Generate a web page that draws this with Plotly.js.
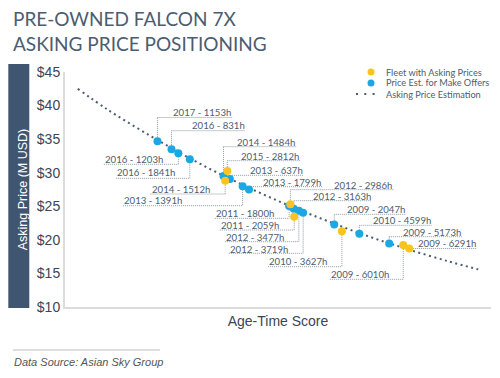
<!DOCTYPE html>
<html>
<head>
<meta charset="utf-8">
<script src="https://cdn.plot.ly/plotly-3.0.1.min.js"></script>
<style>html,body{margin:0;padding:0;background:#fff;}#chart{width:500px;height:378px;}</style>
</head>
<body>
<div id="chart"></div>
<script>
// ---- data ----
const fleetLabels = ['2015 - 2812h','2014 - 1512h','2012 - 2986h','2011 - 2059h','2010 - 3627h','2009 - 6010h','2009 - 6291h'];
const fleetScore  = [38.1, 37.6, 52.9, 53.8, 65.0, 79.4, 80.8];
const fleetPrice  = [30.25, 28.8, 25.3, 23.45, 21.3, 19.25, 18.7];

const offerLabels = ['2017 - 1153h','2016 - 831h','2016 - 1203h','2016 - 1841h','2014 - 1484h','2013 - 637h','2013 - 1391h','2013 - 1799h','2011 - 1800h','2012 - 3163h','2012 - 3477h','2012 - 3719h','2009 - 2047h','2010 - 4599h','2009 - 5173h'];
const offerScore  = [21.7, 25.0, 26.6, 29.3, 37.2, 38.7, 41.7, 43.2, 52.6, 53.7, 54.9, 55.9, 63.2, 69.1, 76.1];
const offerPrice  = [34.7, 33.5, 32.9, 32.0, 29.5, 29.05, 28.0, 27.5, 25.05, 24.65, 24.35, 24.05, 22.3, 20.9, 19.45];

const trendScore = [3, 10, 20, 30, 40, 50, 60, 70, 80, 90, 97];
const trendPrice = [42.5, 39.4, 35.5, 31.9, 28.7, 25.8, 23.2, 20.8, 18.7, 16.8, 15.6];

const yTickVals = [10, 15, 20, 25, 30, 35, 40, 45];

// ---- layout helpers (label placement in page pixels: text centre x, text centre y, underline y) ----
const labelPos = {
  '2017 - 1153h': [202, 112, 117.5],
  '2016 - 831h':  [218, 125.5, 130.7],
  '2016 - 1203h': [134, 159, 164.3],
  '2016 - 1841h': [146, 172.7, 178.3],
  '2014 - 1484h': [266, 142, 146.7],
  '2015 - 2812h': [270, 156, 160.7],
  '2013 - 637h':  [276.5, 170.5, 175.3],
  '2013 - 1799h': [292, 182, 186.7],
  '2014 - 1512h': [180.7, 189.3, 194],
  '2013 - 1391h': [153.3, 200.7, 205.7],
  '2012 - 2986h': [363.3, 185, 189.7],
  '2012 - 3163h': [341.7, 196.2, 200.7],
  '2011 - 1800h': [245, 213.3, 218.3],
  '2011 - 2059h': [250, 225, 230],
  '2012 - 3477h': [255, 237, 241.7],
  '2012 - 3719h': [259, 249, 253.3],
  '2010 - 3627h': [298.3, 261.7, 266.7],
  '2009 - 2047h': [376, 209.7, 214.3],
  '2010 - 4599h': [401.7, 220.8, 225.3],
  '2009 - 5173h': [431.7, 232.2, 236.7],
  '2009 - 6010h': [360, 274.5, 279.3],
  '2009 - 6291h': [446.7, 243.5, 248.5]
};

const W = 500, H = 378;
const M = {l: 65, r: 9, t: 72, b: 71};
const PW = W - M.l - M.r, PH = H - M.t - M.b;
const XR = [0, 100], YR = [10, 45];
const px2x = p => XR[0] + (p - M.l) / PW * (XR[1] - XR[0]);
const py2y = p => YR[1] - (p - M.t) / PH * (YR[1] - YR[0]);
const x2px = x => M.l + (x - XR[0]) / (XR[1] - XR[0]) * PW;
const pxPaperX = p => (p - M.l) / PW;
const pyPaperY = p => (H - M.b - p) / PH;

const TXT = '#4b5d70';
const BLUE = '#1aa7e4', YELLOW = '#f9c41e';
const LABEL_SIZE = 9.6;
const labelFont = {family: 'Lato, sans-serif', size: LABEL_SIZE, color: TXT};

const cv = document.createElement('canvas').getContext('2d');
cv.font = LABEL_SIZE + 'px Lato';

const shapes = [];
const annotations = [];

function addLabels(labels, xs, ys) {
  labels.forEach((lab, i) => {
    const p = labelPos[lab];
    if (!p) return;
    const w = cv.measureText(lab).width;
    const ptx = x2px(xs[i]);
    const left = Math.min(ptx, p[0] - w / 2 - 1);
    const right = Math.max(ptx, p[0] + w / 2 + 1);
    const lineStyle = {color: '#8d99a6', width: 1, dash: '1px,1px'};
    shapes.push({type: 'line', xref: 'x', yref: 'y', layer: 'below',
      x0: px2x(left), x1: px2x(right), y0: py2y(p[2]), y1: py2y(p[2]), line: lineStyle});
    shapes.push({type: 'line', xref: 'x', yref: 'y', layer: 'below',
      x0: xs[i], x1: xs[i], y0: ys[i], y1: py2y(p[2]), line: lineStyle});
    annotations.push({x: px2x(p[0]), y: py2y(p[1]), xref: 'x', yref: 'y', text: lab,
      showarrow: false, xanchor: 'center', yanchor: 'middle', font: labelFont});
  });
}
addLabels(offerLabels, offerScore, offerPrice);
addLabels(fleetLabels, fleetScore, fleetPrice);

// y-axis title band
shapes.push({type: 'rect', xref: 'paper', yref: 'paper', layer: 'below',
  x0: pxPaperX(8.3), x1: pxPaperX(29.3), y0: pyPaperY(308), y1: pyPaperY(64),
  fillcolor: '#405670', line: {width: 0}});
// data-source rule
shapes.push({type: 'line', xref: 'paper', yref: 'paper',
  x0: pxPaperX(13), x1: pxPaperX(160), y0: pyPaperY(350), y1: pyPaperY(350),
  line: {color: '#d3d3d3', width: 1.5}});

// custom compact legend
const legItems = [
  {name: 'Fleet with Asking Prices', kind: 'dot', color: YELLOW, y: 72},
  {name: 'Price Est. for Make Offers', kind: 'dot', color: BLUE, y: 83},
  {name: 'Asking Price Estimation', kind: 'line', color: TXT, y: 94}
];
legItems.forEach(it => {
  if (it.kind === 'dot') {
    shapes.push({type: 'circle', xref: 'paper', yref: 'paper',
      x0: pxPaperX(367.5), x1: pxPaperX(374.5), y0: pyPaperY(it.y + 3.5), y1: pyPaperY(it.y - 3.5),
      fillcolor: it.color, line: {width: 0}});
  } else {
    shapes.push({type: 'line', xref: 'paper', yref: 'paper',
      x0: pxPaperX(356), x1: pxPaperX(375), y0: pyPaperY(it.y), y1: pyPaperY(it.y),
      line: {color: it.color, width: 2, dash: '2px,6.3px'}});
  }
  annotations.push({xref: 'paper', yref: 'paper', x: pxPaperX(384), y: pyPaperY(it.y),
    xanchor: 'left', yanchor: 'middle', showarrow: false, text: it.name,
    font: {family: 'Lato, sans-serif', size: 9.2, color: TXT}});
});

// data source note
annotations.push({xref: 'paper', yref: 'paper', x: pxPaperX(12), y: pyPaperY(362),
  xanchor: 'left', yanchor: 'middle', showarrow: false, text: 'Data Source: Asian Sky Group',
  font: {family: 'Liberation Sans, Arial, sans-serif', size: 11, color: '#555', style: 'italic'}});

const traces = [
  {type: 'scatter', mode: 'lines', name: 'Asking Price Estimation', x: trendScore, y: trendPrice,
   line: {color: TXT, width: 2, dash: '2px,3.5px', shape: 'spline'}, hoverinfo: 'skip', showlegend: false},
  {type: 'scatter', mode: 'markers', name: 'Price Est. for Make Offers', x: offerScore, y: offerPrice,
   text: offerLabels, marker: {color: BLUE, size: 8, line: {width: 0}}, showlegend: false},
  {type: 'scatter', mode: 'markers', name: 'Fleet with Asking Prices', x: fleetScore, y: fleetPrice,
   text: fleetLabels, marker: {color: YELLOW, size: 8, line: {width: 0}}, showlegend: false}
];

const layout = {
  width: W, height: H,
  margin: M,
  paper_bgcolor: '#fff', plot_bgcolor: '#fff',
  showlegend: false,
  title: {text: 'PRE-OWNED FALCON 7X<br>ASKING PRICE POSITIONING', x: 13 / W, xanchor: 'left', xref: 'container',
          y: 0.931, yanchor: 'top', yref: 'container',
          font: {family: 'Lato, sans-serif', size: 19, color: TXT}},
  xaxis: {range: XR, showgrid: false, zeroline: false, showticklabels: false, ticks: '',
          showline: true, linecolor: '#dcdcdc', linewidth: 2,
          title: {text: 'Age-Time Score', standoff: 8, font: {family: 'Liberation Sans, Arial, sans-serif', size: 14, color: '#3b4656'}}},
  yaxis: {range: YR, showgrid: false, zeroline: false, tickvals: yTickVals,
          ticktext: yTickVals.map(v => '$' + v), ticks: '',
          showline: true, linecolor: '#dcdcdc', linewidth: 2,
          tickfont: {family: 'Liberation Sans, Arial, sans-serif', size: 14, color: '#3b4656'},
          title: {text: 'Asking Price (M USD)', standoff: 6, font: {family: 'Liberation Sans, Arial, sans-serif', size: 12.5, color: '#ffffff'}}},
  shapes: shapes,
  annotations: annotations
};

Plotly.newPlot('chart', traces, layout, {displayModeBar: false, staticPlot: true});
</script>
</body>
</html>
